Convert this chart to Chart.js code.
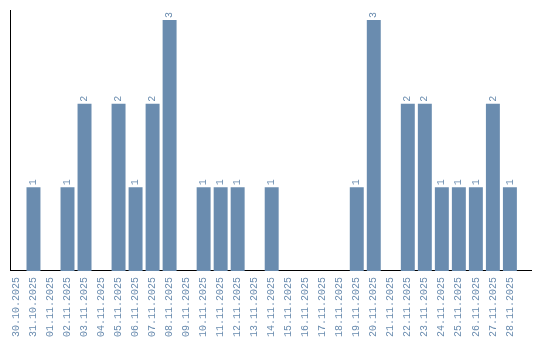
<!DOCTYPE html>
<html>
<head>
<meta charset="utf-8">
<script src="https://cdn.jsdelivr.net/npm/chart.js@4/dist/chart.umd.min.js"></script>
<style>
html,body{margin:0;padding:0;background:#fff;}
#wrap{width:540px;height:340px;}
</style>
</head>
<body>
<div id="wrap"><canvas id="c" width="540" height="340"></canvas></div>
<script>
const categories = ["30.10.2025","31.10.2025","01.11.2025","02.11.2025","03.11.2025","04.11.2025","05.11.2025","06.11.2025","07.11.2025","08.11.2025","09.11.2025","10.11.2025","11.11.2025","12.11.2025","13.11.2025","14.11.2025","15.11.2025","16.11.2025","17.11.2025","18.11.2025","19.11.2025","20.11.2025","21.11.2025","22.11.2025","23.11.2025","24.11.2025","25.11.2025","26.11.2025","27.11.2025","28.11.2025"];
const counts = [0,1,0,1,2,0,2,1,2,3,0,1,1,1,0,1,0,0,0,0,1,3,0,2,2,1,1,1,2,1];
const barColor = "#6a8caf";
const fontFamily = "'Liberation Mono', 'DejaVu Sans Mono', monospace";

const points = counts.map((v, i) => ({ x: i, y: v }));

const valueLabels = {
  id: 'valueLabels',
  afterDatasetsDraw(chart) {
    const ctx = chart.ctx;
    const meta = chart.getDatasetMeta(0);
    ctx.save();
    ctx.fillStyle = barColor;
    ctx.font = "10px " + fontFamily;
    ctx.textAlign = 'left';
    ctx.textBaseline = 'middle';
    meta.data.forEach((bar, i) => {
      const v = counts[i];
      if (!v) return;
      ctx.save();
      ctx.translate(bar.x, bar.y - 2);
      ctx.rotate(-Math.PI / 2);
      ctx.fillText(String(v), 0, 0);
      ctx.restore();
    });
    ctx.restore();
  }
};

new Chart(document.getElementById('c'), {
  type: 'bar',
  data: {
    datasets: [{
      data: points,
      backgroundColor: barColor,
      borderWidth: 0,
      barPercentage: 0.82,
      categoryPercentage: 1.0
    }]
  },
  options: {
    responsive: false,
    animation: false,
    parsing: { xAxisKey: 'x', yAxisKey: 'y' },
    layout: { padding: { left: 10, right: 9, top: 10, bottom: -3 } },
    plugins: { legend: { display: false }, tooltip: { enabled: false } },
    scales: {
      x: {
        type: 'linear',
        offset: false,
        min: -0.38,
        max: 30.24,
        afterFit: (scale) => { scale.paddingLeft = 0; scale.paddingRight = 0; },
        grid: { display: false, drawTicks: false },
        border: { display: true, color: '#000', width: 1 },
        ticks: {
          color: barColor,
          font: { family: fontFamily, size: 10 },
          minRotation: 90,
          maxRotation: 90,
          autoSkip: false,
          stepSize: 1,
          includeBounds: false,
          padding: 6,
          callback: (v) => Number.isInteger(v) && categories[v] !== undefined ? categories[v] : ''
        }
      },
      y: {
        min: 0,
        max: 3.12,
        grid: { display: false, drawTicks: false },
        border: { display: true, color: '#000', width: 1 },
        ticks: { display: false }
      }
    }
  },
  plugins: [valueLabels]
});
</script>
</body>
</html>
